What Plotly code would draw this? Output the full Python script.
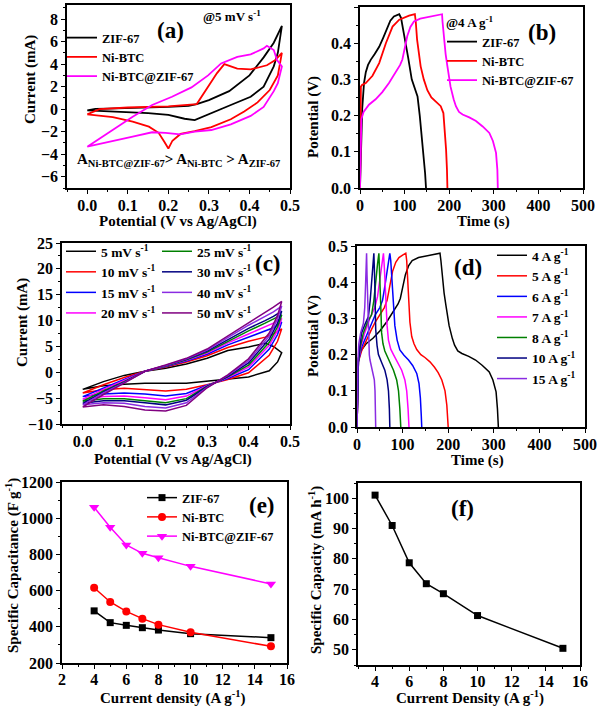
import plotly.graph_objects as go

W, H = 600, 707
FONT = "Liberation Serif"

# ---------------- Panel (a): CV at 5 mV/s ----------------
a_zif_V = [0, 0.02, 0.05, 0.1, 0.15, 0.2, 0.25, 0.27, 0.3, 0.35, 0.4, 0.435, 0.46, 0.48,
           0.47, 0.46, 0.435, 0.403, 0.354, 0.306, 0.265, 0.24, 0.2, 0.15, 0.1, 0.05, 0]
a_zif_I = [-0.1, 0.03, 0.05, 0.08, 0.12, 0.2, 0.3, 0.45, 0.8, 1.6, 3.0, 4.6, 5.9, 7.4,
           5.0, 3.8, 2.0, 1.1, 0.37, -0.37, -0.97, -0.85, -0.5, -0.35, -0.25, -0.2, -0.1]

a_ni_V = [0, 0.03, 0.1, 0.2, 0.27, 0.298, 0.32, 0.338, 0.37, 0.403, 0.443, 0.464, 0.48,
          0.47, 0.45, 0.42, 0.387, 0.354, 0.306, 0.265, 0.23, 0.21, 0.2, 0.19, 0.176, 0.152, 0.112, 0.063, 0]
a_ni_I = [-0.46, 0.0, 0.15, 0.25, 0.45, 2.0, 3.2, 4.0, 3.6, 3.53, 3.9, 4.36, 5.0,
          3.0, 1.7, 0.6, -0.2, -0.9, -1.6, -1.95, -2.2, -2.8, -3.5, -2.9, -2.1, -1.55, -1.1, -0.7, -0.46]

a_comp_V = [0, 0.055, 0.112, 0.16, 0.209, 0.257, 0.298, 0.33, 0.37, 0.403, 0.435, 0.443, 0.46, 0.468, 0.48,
            0.47, 0.46, 0.435, 0.403, 0.354, 0.306, 0.265, 0.229, 0.193, 0.16, 0.112, 0.055, 0]
a_comp_I = [-3.33, -2.0, -0.67, 0.37, 1.1, 1.93, 3.0, 4.06, 4.65, 4.86, 5.4, 5.63, 5.25, 4.36, 3.8,
            2.3, 1.6, 0.2, -0.6, -1.35, -1.85, -2.0, -2.24, -2.1, -2.05, -2.44, -2.89, -3.33]

# ---------------- Panel (b): GCD at 4 A/g ----------------
b_zif_t = [0, 2, 5, 9, 13, 18, 24, 33, 43, 52, 60, 68, 76, 88,
           92, 96, 101, 108, 116, 122, 129, 134, 138, 142, 146, 148]
b_zif_V = [0, 0.1, 0.22, 0.29, 0.32, 0.34, 0.354, 0.37, 0.39, 0.415, 0.44, 0.462, 0.474, 0.48,
           0.47, 0.445, 0.414, 0.36, 0.30, 0.275, 0.253, 0.2, 0.152, 0.1, 0.04, 0]

b_ni_t = [0, 1, 2, 5, 13, 28, 43, 58, 73, 88, 110, 123,
          125, 128, 132, 136, 143, 151, 160, 170, 181, 187, 190, 193, 195, 196]
b_ni_V = [0, 0.15, 0.28, 0.285, 0.29, 0.31, 0.345, 0.4, 0.446, 0.465, 0.476, 0.48,
          0.46, 0.41, 0.37, 0.336, 0.3, 0.27, 0.25, 0.238, 0.226, 0.207, 0.16, 0.106, 0.05, 0]

b_comp_t = [0, 1, 3, 8, 20, 35, 50, 65, 80, 90, 95, 100, 106, 113, 121, 135, 150, 165, 184,
            185, 188, 192, 196, 203, 210, 215, 222, 230, 245, 260, 275, 290, 298, 305, 308, 309]
b_comp_V = [0, 0.12, 0.19, 0.21, 0.23, 0.245, 0.265, 0.29, 0.322, 0.34, 0.355, 0.385, 0.42, 0.445, 0.46,
            0.468, 0.472, 0.476, 0.48,
            0.46, 0.42, 0.37, 0.336, 0.28, 0.245, 0.226, 0.21, 0.203, 0.195, 0.185, 0.17, 0.152,
            0.13, 0.097, 0.05, 0]

# ---------------- Panel (c): CV at different scan rates ----------------
c_V_up = [0, 0.05, 0.1, 0.15, 0.2, 0.25, 0.3, 0.35, 0.4, 0.44, 0.46, 0.48]
c_V_down = [0.48, 0.47, 0.45, 0.4, 0.35, 0.3, 0.25, 0.2, 0.15, 0.1, 0.05, 0]
c_rates = ["5", "10", "15", "20", "25", "30", "40", "50"]
c_up = {
    "5":  [-3.3, -1.8, -0.6, 0.2, 0.8, 1.6, 2.7, 4.2, 4.9, 5.6, 5.0, 3.8],
    "10": [-4.0, -2.4, -1.0, 0.2, 1.0, 2.0, 3.2, 4.8, 6.0, 6.8, 7.4, 8.4],
    "15": [-4.7, -3.0, -1.4, 0.2, 1.1, 2.2, 3.5, 5.3, 6.8, 8.0, 8.6, 9.7],
    "20": [-5.2, -3.3, -1.6, 0.2, 1.2, 2.3, 3.7, 5.7, 7.4, 8.8, 9.5, 10.4],
    "25": [-5.6, -3.6, -1.8, 0.2, 1.2, 2.4, 3.9, 6.0, 8.0, 9.5, 10.3, 11.1],
    "30": [-6.0, -3.8, -1.9, 0.2, 1.3, 2.5, 4.1, 6.3, 8.5, 10.0, 10.8, 11.8],
    "40": [-6.3, -4.0, -2.0, 0.2, 1.3, 2.6, 4.3, 6.7, 9.1, 10.8, 11.7, 12.8],
    "50": [-6.7, -4.3, -2.1, 0.2, 1.4, 2.7, 4.5, 7.0, 9.6, 11.6, 12.6, 13.7],
}
c_down = {
    "5":  [3.8, 2.0, 0.3, -0.9, -1.3, -1.6, -2.1, -2.1, -2.1, -2.3, -2.6, -3.3],
    "10": [8.4, 6.0, 3.3, -0.1, -1.4, -2.4, -3.3, -3.6, -3.3, -3.1, -3.4, -4.0],
    "15": [9.7, 7.3, 4.5, 0.5, -1.2, -2.5, -4.1, -4.6, -4.2, -4.0, -4.2, -4.7],
    "20": [10.4, 8.1, 5.2, 1.0, -1.0, -2.6, -4.6, -5.3, -4.9, -4.6, -4.7, -5.2],
    "25": [11.1, 8.8, 5.8, 1.4, -0.9, -2.7, -5.1, -5.9, -5.5, -5.1, -5.1, -5.6],
    "30": [11.8, 9.5, 6.4, 1.8, -0.8, -2.8, -5.4, -6.3, -5.9, -5.5, -5.5, -6.0],
    "40": [12.8, 10.3, 7.0, 2.2, -0.6, -2.9, -5.9, -6.9, -6.6, -6.0, -5.9, -6.3],
    "50": [13.7, 11.0, 7.6, 2.6, -0.5, -3.0, -6.4, -7.5, -7.3, -6.6, -6.3, -6.7],
}
c_colors = ["#000000", "#ff0000", "#0000ff", "#ff00ff", "#008000", "#000080", "#8a2be2", "#800080"]

# ---------------- Panel (d): GCD at different current densities ----------------
d_labels = ["4", "5", "6", "7", "8", "10", "15"]
d_t = {
    "4": [0, 1, 3, 8, 20, 35, 50, 65, 80, 90, 95, 100, 106, 113, 121, 135, 150, 165, 182,
          184, 187, 191, 195, 202, 209, 214, 221, 230, 245, 260, 275, 290, 298, 305, 308, 310],
    "5": [0, 1, 3, 10, 20, 30, 40, 50, 60, 66, 72, 78, 85, 92, 100, 107,
          109, 111, 113, 116, 120, 125, 131, 140, 149, 160, 170, 178, 186, 193, 197, 199, 200],
    "6": [0, 1, 3, 10, 20, 30, 40, 50, 56, 60, 65, 69, 72,
          74, 76, 79, 83, 88, 94, 103, 113, 122, 131, 136, 139, 141, 142],
    "7": [0, 1, 3, 8, 17, 28, 39, 45, 50, 54, 58,
          60, 63, 66, 69, 74, 80, 88, 98, 105, 109, 112, 114],
    "8": [0, 1, 3, 7, 14, 23, 32, 37, 41, 45, 48,
          50, 52, 54, 57, 61, 70, 80, 87, 91, 94, 96],
    "10": [0, 1, 3, 6, 10, 18, 25, 29, 32, 35, 37,
           39, 41, 44, 47, 54, 61, 66, 69, 71, 72],
    "15": [0, 1, 2, 4, 8, 14, 17, 19, 21,
           22, 24, 25, 27, 28.5, 32, 36, 38, 39.5, 40.5, 41],
}
d_V = {
    "4": [0, 0.12, 0.19, 0.21, 0.23, 0.245, 0.265, 0.29, 0.322, 0.34, 0.355, 0.385, 0.42, 0.445, 0.46,
          0.468, 0.472, 0.476, 0.48,
          0.46, 0.42, 0.37, 0.336, 0.28, 0.245, 0.226, 0.21, 0.203, 0.195, 0.185, 0.17, 0.152,
          0.13, 0.097, 0.05, 0],
    "5": [0, 0.12, 0.18, 0.21, 0.24, 0.265, 0.29, 0.31, 0.33, 0.35, 0.39, 0.43, 0.455, 0.468, 0.475, 0.48,
          0.46, 0.41, 0.35, 0.29, 0.25, 0.23, 0.214, 0.2, 0.192, 0.18, 0.165, 0.15, 0.13, 0.1, 0.06, 0.03, 0],
    "6": [0, 0.12, 0.18, 0.22, 0.25, 0.28, 0.31, 0.33, 0.35, 0.38, 0.42, 0.46, 0.48,
          0.46, 0.42, 0.35, 0.28, 0.24, 0.213, 0.198, 0.185, 0.17, 0.148, 0.12, 0.08, 0.03, 0],
    "7": [0, 0.12, 0.18, 0.22, 0.26, 0.3, 0.33, 0.36, 0.41, 0.45, 0.48,
          0.44, 0.33, 0.28, 0.24, 0.215, 0.2, 0.18, 0.157, 0.13, 0.1, 0.05, 0],
    "8": [0, 0.12, 0.18, 0.22, 0.26, 0.29, 0.31, 0.35, 0.41, 0.45, 0.48,
          0.43, 0.34, 0.26, 0.23, 0.21, 0.185, 0.157, 0.13, 0.1, 0.05, 0],
    "10": [0, 0.12, 0.18, 0.22, 0.26, 0.285, 0.305, 0.35, 0.4, 0.45, 0.48,
           0.4, 0.27, 0.225, 0.2, 0.178, 0.157, 0.13, 0.1, 0.05, 0],
    "15": [0, 0.12, 0.18, 0.23, 0.26, 0.286, 0.33, 0.4, 0.48,
           0.42, 0.3, 0.25, 0.2, 0.185, 0.165, 0.148, 0.13, 0.1, 0.05, 0],
}
d_colors = ["#000000", "#ff0000", "#0000ff", "#ff00ff", "#008000", "#000080", "#8a2be2"]

# ---------------- Panel (e): specific capacitance ----------------
e_current = [4, 5, 6, 7, 8, 10, 15]
e_zif = [488, 423, 408, 395, 382, 362, 340]
e_ni = [616, 537, 485, 445, 412, 370, 292]
e_comp = [1060, 950, 852, 806, 782, 734, 637]

# ---------------- Panel (f): specific capacity ----------------
f_current = [4, 5, 6, 7, 8, 10, 15]
f_capacity = [101, 91, 78.7, 71.8, 68.5, 61.3, 50.5]


def X(p):
    return p / W


def Y(p):
    return 1 - p / H


fig = go.Figure()
LW = 1.8

# (a)
fig.add_trace(go.Scatter(x=a_zif_V, y=a_zif_I, mode="lines", name="ZIF-67",
                         line=dict(color="#000000", width=LW), xaxis="x", yaxis="y", legend="legend"))
fig.add_trace(go.Scatter(x=a_ni_V, y=a_ni_I, mode="lines", name="Ni-BTC",
                         line=dict(color="#ff0000", width=LW), xaxis="x", yaxis="y", legend="legend"))
fig.add_trace(go.Scatter(x=a_comp_V, y=a_comp_I, mode="lines", name="Ni-BTC@ZIF-67",
                         line=dict(color="#ff00ff", width=LW), xaxis="x", yaxis="y", legend="legend"))
# (b)
fig.add_trace(go.Scatter(x=b_zif_t, y=b_zif_V, mode="lines", name="ZIF-67",
                         line=dict(color="#000000", width=LW), xaxis="x2", yaxis="y2", legend="legend2"))
fig.add_trace(go.Scatter(x=b_ni_t, y=b_ni_V, mode="lines", name="Ni-BTC",
                         line=dict(color="#ff0000", width=LW), xaxis="x2", yaxis="y2", legend="legend2"))
fig.add_trace(go.Scatter(x=b_comp_t, y=b_comp_V, mode="lines", name="Ni-BTC@ZIF-67",
                         line=dict(color="#ff00ff", width=LW), xaxis="x2", yaxis="y2", legend="legend2"))
# (c)
for i, r in enumerate(c_rates):
    fig.add_trace(go.Scatter(x=c_V_up + c_V_down, y=c_up[r] + c_down[r], mode="lines",
                             name=f"{r} mV s<sup>-1</sup>",
                             line=dict(color=c_colors[i], width=1.5), xaxis="x3", yaxis="y3",
                             legend="legend3" if i < 4 else "legend4"))
# (d)
for i, lab in enumerate(d_labels):
    fig.add_trace(go.Scatter(x=d_t[lab], y=d_V[lab], mode="lines", name=f"{lab} A g<sup>-1</sup>",
                             line=dict(color=d_colors[i], width=1.5), xaxis="x4", yaxis="y4",
                             legend="legend5"))
# (e)
fig.add_trace(go.Scatter(x=e_current, y=e_zif, mode="lines+markers", name="ZIF-67",
                         line=dict(color="#000000", width=1.5),
                         marker=dict(symbol="square", size=7, color="#000000"),
                         xaxis="x5", yaxis="y5", legend="legend6"))
fig.add_trace(go.Scatter(x=e_current, y=e_ni, mode="lines+markers", name="Ni-BTC",
                         line=dict(color="#ff0000", width=1.5),
                         marker=dict(symbol="circle", size=8, color="#ff0000"),
                         xaxis="x5", yaxis="y5", legend="legend6"))
fig.add_trace(go.Scatter(x=e_current, y=e_comp, mode="lines+markers", name="Ni-BTC@ZIF-67",
                         line=dict(color="#ff00ff", width=1.5),
                         marker=dict(symbol="triangle-down", size=9, color="#ff00ff"),
                         xaxis="x5", yaxis="y5", legend="legend6"))
# (f)
fig.add_trace(go.Scatter(x=f_current, y=f_capacity, mode="lines+markers", showlegend=False,
                         line=dict(color="#000000", width=1.5),
                         marker=dict(symbol="square", size=7, color="#000000"),
                         xaxis="x6", yaxis="y6"))

tickfont = dict(family=FONT, size=16, color="black", weight="bold")


def axis(dom, rng, tick0, dtick, minor, fmt=None, anchor=None, standoff=0):
    d = dict(domain=dom, range=rng, tickmode="linear", tick0=tick0, dtick=dtick,
             showline=True, linecolor="black", linewidth=1.5, mirror=True,
             ticks="outside", ticklen=4, tickwidth=1.2, tickcolor="black",
             showgrid=False, zeroline=False, tickfont=tickfont, anchor=anchor,
             automargin=False, ticklabelstandoff=standoff,
             minor=dict(ticks="outside", ticklen=2.5, tickwidth=1, tickcolor="black",
                        dtick=minor, tick0=tick0, showgrid=False))
    if fmt:
        d["tickformat"] = fmt
    return d


# panel frames in pixels: (x0, x1, y0, y1)
frames = {
    1: (67, 290, 5, 188),
    2: (360, 583, 7, 188),
    3: (62, 290, 243, 424),
    4: (357, 585, 246, 427),
    5: (62, 287, 482, 663),
    6: (358, 580, 483, 665),
}


def xd(k):
    f = frames[k]
    return [X(f[0]), X(f[1])]


def yd(k):
    f = frames[k]
    return [Y(f[3]), Y(f[2])]


XS = -2  # pull x tick labels slightly toward the frame
layout_axes = {
    "xaxis": axis(xd(1), [-0.05, 0.5], 0, 0.1, 0.05, ".1f", "y", XS),
    "yaxis": axis(yd(1), [-7, 9.25], 0, 2, 1, None, "x"),
    "xaxis2": axis(xd(2), [0, 500], 0, 100, 50, None, "y2", XS),
    "yaxis2": axis(yd(2), [0, 0.5], 0, 0.1, 0.05, ".1f", "x2"),
    "xaxis3": axis(xd(3), [-0.05, 0.5], 0, 0.1, 0.05, ".1f", "y3", XS),
    "yaxis3": axis(yd(3), [-10, 25], 0, 5, 2.5, None, "x3"),
    "xaxis4": axis(xd(4), [0, 500], 0, 100, 50, None, "y4", XS),
    "yaxis4": axis(yd(4), [0, 0.5], 0, 0.1, 0.05, ".1f", "x4"),
    "xaxis5": axis(xd(5), [2, 16], 0, 2, 1, None, "y5", -3),
    "yaxis5": axis(yd(5), [200, 1200], 0, 200, 100, None, "x5"),
    "xaxis6": axis(xd(6), [3, 16], 0, 2, 1, None, "y6", -3),
    "yaxis6": axis(yd(6), [45, 105], 0, 10, 5, None, "x6"),
}

ann = []


def text(x, y, s, size=14, angle=0, xanchor="center"):
    ann.append(dict(x=X(x), y=Y(y), xref="paper", yref="paper", text=s, showarrow=False,
                    textangle=angle, xanchor=xanchor, yanchor="middle",
                    font=dict(family=FONT, size=size, color="black", weight="bold")))


# axis titles
text(30, 80, "Current (mA)", 15, -90)
text(178, 221, "Potential (V vs Ag/AgCl)", 15)
text(313, 117, "Potential (V)", 15, -90)
text(483, 221, "Time (s)", 15)
text(22, 323, "Current (mA)", 15, -90)
text(173, 459, "Potential (V vs Ag/AgCl)", 15)
text(313, 336, "Potential (V)", 15, -90)
text(477, 460, "Time (s)", 15)
text(12, 566, "Specific Capacitance (F g<sup>-1</sup>)", 15, -90)
text(173, 697, "Current density (A g<sup>-1</sup>)", 15)
text(315, 570, "Specific Capacity (mA h<sup>-1</sup>)", 15, -90)
text(470, 697, "Current Density (A g<sup>-1</sup>)", 15)

# panel labels and notes
text(170, 31, "(a)", 23)
text(232, 16, "@5 mV s<sup>-1</sup>", 13)
text(178, 160, "A<sub>Ni-BTC@ZIF-67</sub>> A<sub>Ni-BTC</sub> > A<sub>ZIF-67</sub>", 15)
text(542, 32, "(b)", 23)
text(470, 22, "@4 A g<sup>-1</sup>", 13)
text(268, 263, "(c)", 23)
text(468, 267, "(d)", 23)
text(262, 505, "(e)", 23)
text(463, 508, "(f)", 23)


def leg(x, y, size=13.5):
    return dict(x=X(x), y=Y(y), xanchor="left", yanchor="top", bgcolor="rgba(0,0,0,0)",
                borderwidth=0, itemwidth=30, traceorder="normal",
                font=dict(family=FONT, size=size, color="black", weight="bold"))


fig.update_layout(
    width=W, height=H, margin=dict(l=0, r=0, t=0, b=0, autoexpand=False),
    paper_bgcolor="white", plot_bgcolor="white",
    annotations=ann,
    legend=leg(62, 23, 12.5),
    legend2=leg(442, 27, 12.5),
    legend3=leg(61, 236),
    legend4=leg(157, 236),
    legend5=leg(492, 240),
    legend6=leg(142, 483, 12.5),
    **layout_axes,
)

fig.write_html("out.html", config={"displayModeBar": False},
               post_script="document.body.style.margin='0px';document.body.style.overflow='hidden';")
